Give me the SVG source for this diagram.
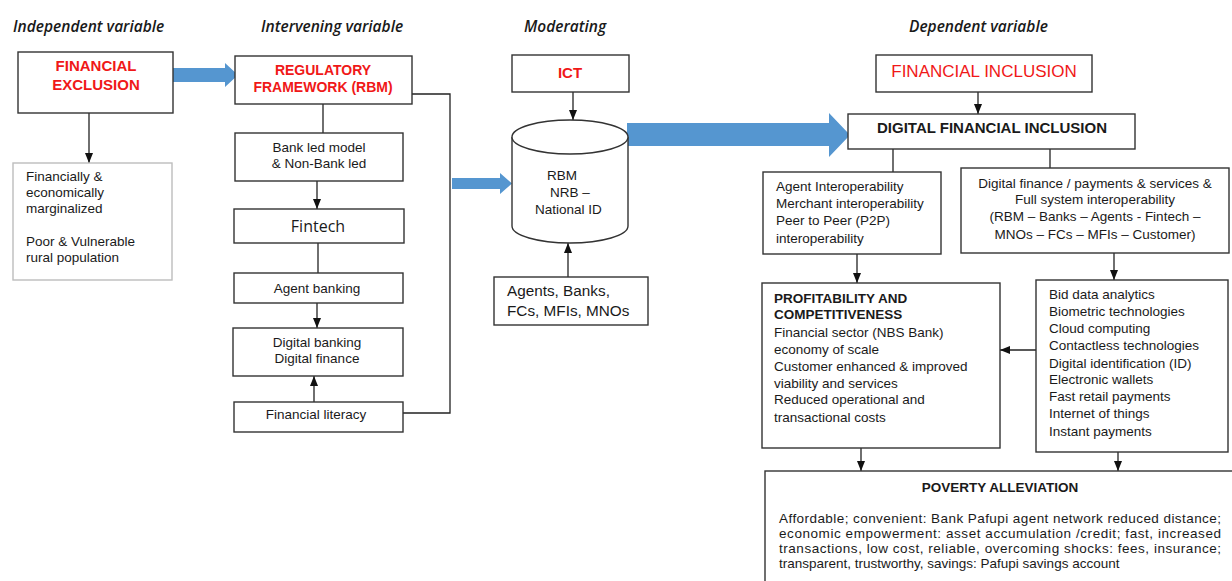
<svg xmlns="http://www.w3.org/2000/svg" width="1232" height="581" viewBox="0 0 1232 581">
<style>
.box{fill:#fff;stroke:#333;stroke-width:1.4}
.gbox{fill:#fff;stroke:#bdbdbd;stroke-width:1.4}
.ttl{font-family:"Open Sans",sans-serif;font-style:italic;font-weight:600;font-size:15.5px;fill:#1a1a1a}
.t{font-family:"Liberation Sans",Arial,sans-serif;font-size:13.5px;fill:#1a1a1a}
.tb{font-family:"Liberation Sans",Arial,sans-serif;font-size:13.5px;font-weight:bold;fill:#1a1a1a}
.red{font-family:"Liberation Sans",Arial,sans-serif;font-weight:bold;fill:#f01818}
.c{text-anchor:middle}
.con{stroke:#222;stroke-width:1.3;fill:none}
.arr{marker-end:url(#ah)}
.blue{fill:#5596d0}
.big{font-size:15.3px}
.dfi{font-size:15px}
.para{font-size:13.5px}
</style>
<defs>
<marker id="ah" markerUnits="userSpaceOnUse" markerWidth="10" markerHeight="10" viewBox="0 0 10 10" refX="10" refY="5" orient="auto">
<path d="M0,1 L10,5 L0,9 Z" fill="#111"/>
</marker>
</defs>

<g id="titles">
<text class="ttl" x="13" y="32">Independent variable</text>
<text class="ttl" x="261" y="32">Intervening variable</text>
<text class="ttl" x="524" y="32">Moderating</text>
<text class="ttl" x="909" y="32">Dependent variable</text>
</g>

<g id="connectors">
<line class="con arr" x1="89" y1="113" x2="89" y2="163"/>
<polygon class="blue" points="173,68 225,68 225,63 238,75 225,87 225,82 173,82"/>
<line class="con" x1="323" y1="104" x2="323" y2="133"/>
<line class="con arr" x1="317" y1="181" x2="317" y2="209"/>
<line class="con" x1="318" y1="243" x2="318" y2="273"/>
<line class="con arr" x1="317" y1="303" x2="317" y2="328"/>
<line class="con arr" x1="314" y1="402" x2="314" y2="376"/>
<polyline class="con" points="412,94 450,94 450,413 403,413"/>
<polygon class="blue" points="452,178 500,178 500,173 512,183.5 500,194 500,189 452,189"/>
<line class="con arr" x1="573" y1="92" x2="573" y2="120"/>
<line class="con arr" x1="568" y1="277" x2="568" y2="243"/>
<polygon class="blue" points="627,123 829,123 829,113 850,135 829,157 829,146 627,146"/>
<line class="con arr" x1="978" y1="92" x2="978" y2="114"/>
<line class="con" x1="893" y1="149" x2="893" y2="172"/>
<line class="con" x1="1050" y1="149" x2="1050" y2="168"/>
<line class="con arr" x1="857" y1="254" x2="857" y2="283"/>
<line class="con arr" x1="1114" y1="253" x2="1114" y2="280"/>
<line class="con arr" x1="1036" y1="350" x2="1000" y2="350"/>
<line class="con arr" x1="861" y1="448" x2="861" y2="471"/>
<line class="con arr" x1="1118" y1="452" x2="1118" y2="471"/>
</g>

<g id="financial-exclusion">
<rect class="box" x="18" y="52" width="155" height="61"/>
<text class="red c" font-size="15" x="96" y="71">FINANCIAL</text>
<text class="red c" font-size="15" x="96" y="90">EXCLUSION</text>
</g>

<g id="marginalized">
<rect class="gbox" x="13" y="163" width="159" height="117"/>
<text class="t" x="26" y="181">Financially &amp;</text>
<text class="t" x="26" y="197">economically</text>
<text class="t" x="26" y="213">marginalized</text>
<text class="t" x="26" y="246">Poor &amp; Vulnerable</text>
<text class="t" x="26" y="262">rural population</text>
</g>

<g id="regulatory-framework">
<rect class="box" x="235" y="56" width="177" height="48"/>
<text class="red c" font-size="14" x="323" y="75">REGULATORY</text>
<text class="red c" font-size="14" x="323" y="92">FRAMEWORK (RBM)</text>
</g>

<g id="bank-led">
<rect class="box" x="235" y="133" width="168" height="48"/>
<text class="t c" x="319" y="152">Bank led model</text>
<text class="t c" x="319" y="168">&amp; Non-Bank led</text>
</g>

<g id="fintech">
<rect class="box" x="234" y="209" width="170" height="34"/>
<text class="c" font-family="'Open Sans',sans-serif" font-size="16" fill="#1a1a1a" x="318" y="232">Fintech</text>
</g>

<g id="agent-banking">
<rect class="box" x="234" y="273" width="169" height="30"/>
<text class="t c" x="317" y="293">Agent banking</text>
</g>

<g id="digital-banking">
<rect class="box" x="233" y="328" width="170" height="48"/>
<text class="t c" x="317" y="347">Digital banking</text>
<text class="t c" x="317" y="363">Digital finance</text>
</g>

<g id="financial-literacy">
<rect class="box" x="234" y="402" width="169" height="30"/>
<text class="t c" x="316" y="419">Financial literacy</text>
</g>

<g id="ict">
<rect class="box" x="512" y="55" width="117" height="37"/>
<text class="red c" font-size="15" x="570" y="78">ICT</text>
</g>

<g id="database">
<path class="box" d="M512,137 L512,226 A58,17 0 0 0 628,226 L628,137"/>
<ellipse class="box" cx="570" cy="137" rx="58" ry="17"/>
<text class="t" x="547" y="180">RBM</text>
<text class="t" x="550" y="197">NRB –</text>
<text class="t" x="535" y="214">National ID</text>
</g>

<g id="agents-banks">
<rect class="box" x="494" y="277" width="154" height="48"/>
<text class="t big" x="507" y="296">Agents, Banks,</text>
<text class="t big" x="507" y="316">FCs, MFIs, MNOs</text>
</g>

<g id="financial-inclusion">
<rect class="box" x="876" y="55" width="216" height="37"/>
<text class="c" font-family="'Liberation Sans',Arial,sans-serif" font-size="17" fill="#f01818" x="984" y="77">FINANCIAL INCLUSION</text>
</g>

<g id="digital-financial-inclusion">
<rect class="box" x="848" y="114" width="287" height="35"/>
<text class="tb c dfi" x="992" y="133">DIGITAL FINANCIAL INCLUSION</text>
</g>

<g id="interoperability">
<rect class="box" x="763" y="172" width="178" height="82"/>
<text class="t" x="776" y="191">Agent Interoperability</text>
<text class="t" x="776" y="208">Merchant interoperability</text>
<text class="t" x="776" y="225">Peer to Peer (P2P)</text>
<text class="t" x="776" y="243">interoperability</text>
</g>

<g id="digital-finance">
<rect class="box" x="961" y="168" width="268" height="85"/>
<text class="t c" x="1095" y="188">Digital finance / payments &amp; services &amp;</text>
<text class="t c" x="1095" y="204">Full system interoperability</text>
<text class="t c" x="1095" y="221">(RBM – Banks – Agents - Fintech –</text>
<text class="t c" x="1095" y="239">MNOs – FCs – MFIs – Customer)</text>
</g>

<g id="profitability">
<rect class="box" x="762" y="283" width="238" height="165"/>
<text class="tb" x="774" y="303">PROFITABILITY AND</text>
<text class="tb" x="774" y="319">COMPETITIVENESS</text>
<text class="t" x="774" y="337">Financial sector (NBS Bank)</text>
<text class="t" x="774" y="354">economy of scale</text>
<text class="t" x="774" y="371">Customer enhanced &amp; improved</text>
<text class="t" x="774" y="388">viability and services</text>
<text class="t" x="774" y="404">Reduced operational and</text>
<text class="t" x="774" y="422">transactional costs</text>
</g>

<g id="technologies">
<rect class="box" x="1036" y="280" width="192" height="172"/>
<text class="t" x="1049" y="299">Bid data analytics</text>
<text class="t" x="1049" y="316">Biometric technologies</text>
<text class="t" x="1049" y="333">Cloud computing</text>
<text class="t" x="1049" y="350">Contactless technologies</text>
<text class="t" x="1049" y="368">Digital identification (ID)</text>
<text class="t" x="1049" y="384">Electronic wallets</text>
<text class="t" x="1049" y="401">Fast retail payments</text>
<text class="t" x="1049" y="418">Internet of things</text>
<text class="t" x="1049" y="436">Instant payments</text>
</g>

<g id="poverty-alleviation">
<rect class="box" x="765" y="471" width="490" height="130"/>
<text class="tb c" x="1000" y="492">POVERTY ALLEVIATION</text>
<text class="t para" x="779" y="523" textLength="442" lengthAdjust="spacing">Affordable; convenient: Bank Pafupi agent network reduced distance;</text>
<text class="t para" x="779" y="538" textLength="442" lengthAdjust="spacing">economic empowerment: asset accumulation /credit; fast, increased</text>
<text class="t para" x="779" y="553" textLength="442" lengthAdjust="spacing">transactions, low cost, reliable, overcoming shocks: fees, insurance;</text>
<text class="t para" x="779" y="568">transparent, trustworthy, savings: Pafupi savings account</text>
</g>
</svg>
